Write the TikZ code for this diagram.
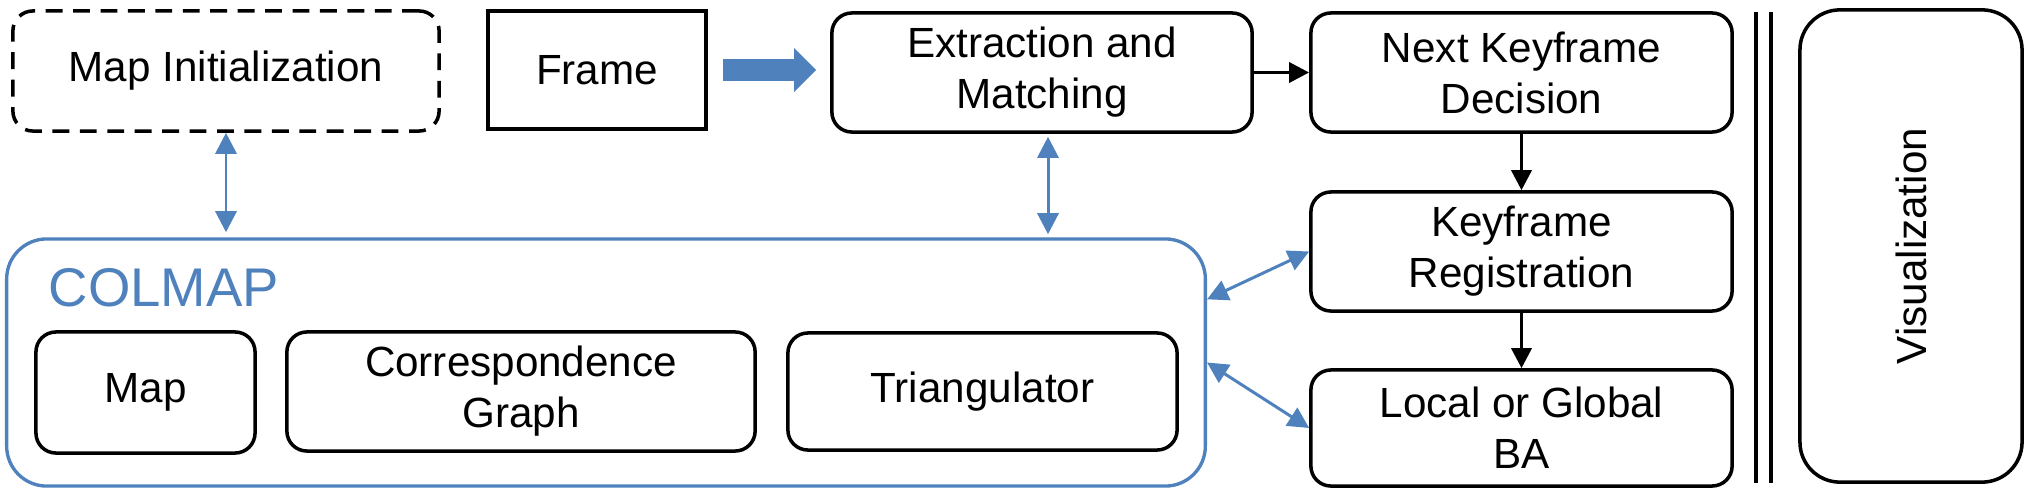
\documentclass[tikz,border=0pt]{standalone}
\usepackage{fontspec}
\setmainfont{Liberation Sans}
\usetikzlibrary{positioning,arrows.meta}
\definecolor{colmapblue}{RGB}{79,129,189}

\begin{document}
\begin{tikzpicture}[x=0.01cm,y=-0.01cm,
    block/.style={draw,line width=1pt,rounded corners=0.2cm,align=center,inner sep=0pt,font=\fontsize{12}{14.5}\selectfont},
    link/.style={line width=1pt,-{Triangle[length=0.2cm,width=0.2cm]}},
    twoway/.style={draw=colmapblue,line width=0.85pt,{Triangle[length=0.21cm,width=0.21cm]}-{Triangle[length=0.21cm,width=0.21cm]}},
    bigarrow/.style={draw=colmapblue,line width=0.22cm,-{Triangle[length=0.22cm,width=0.44cm,line width=0pt]}}]
      \useasboundingbox (0,0) rectangle (2033,494);
      % top row
      \node[block,dash pattern=on 4.8pt off 3pt,minimum width=4.26cm,minimum height=1.2cm](init) at (226,71){Map Initialization};
      \node[block,rounded corners=0pt,line width=1.25pt,minimum width=2.18cm,minimum height=1.18cm](frame) at (597,70){Frame};
      \node[block,minimum width=4.2cm,minimum height=1.19cm](extract) at (1042,72.5){Extraction and\\Matching};
      \node[block,minimum width=4.21cm,minimum height=1.19cm](nkd) at (1521.5,72.5){Next Keyframe\\Decision};
      % right column
      \node[block,minimum width=4.21cm,minimum height=1.19cm](kreg) at (1521.5,251.5){Keyframe\\Registration};
      \node[block,minimum width=4.21cm,minimum height=1.16cm](ba) at (1521.5,428){Local or Global\\BA};
      \node[block,rotate=90,rounded corners=0.4cm,minimum width=4.72cm,minimum height=2.22cm](vis) at (1911,246){Visualization};
      % COLMAP
      \node[draw=colmapblue,line width=0.95pt,rounded corners=0.4cm,minimum width=11.98cm,minimum height=2.47cm](colmap) at (606,362.5){};
      \node[anchor=base west,inner sep=0pt,text=colmapblue,font=\fontsize{15.5}{18}\selectfont](colmaplabel) at (48,306){COLMAP};
      \node[block,minimum width=2.19cm,minimum height=1.21cm](map) at (145.5,392.5){Map};
      \node[block,minimum width=4.68cm,minimum height=1.19cm](corr) at (521,391.5){Correspondence\\Graph};
      \node[block,minimum width=3.89cm,minimum height=1.17cm](tri) at (982.5,391.5){Triangulator};
      % separator
      \draw[line width=1pt] (1756,12) -- (1756,483) (1771,12) -- (1771,483);
      % connectors
      \draw[bigarrow,shorten <=0.15cm,shorten >=0.14cm] (frame.east) -- (frame.east -| extract.west);
      \draw[link] (extract) -- (nkd);
      \draw[link] (nkd) -- (kreg);
      \draw[link] (kreg) -- (ba);
      \draw[twoway,shorten >=0.05cm] (init.south) -- (init.south |- colmap.north);
      \draw[twoway,shorten <=0.03cm,shorten >=0.03cm] ([xshift=0.06cm]extract.south) -- ([xshift=0.06cm]extract.south |- colmap.north);
      \draw[twoway] (colmap.6) -- (kreg.west);
      \draw[twoway] (colmap.east) -- (ba.west);
    \end{tikzpicture}
\end{document}
